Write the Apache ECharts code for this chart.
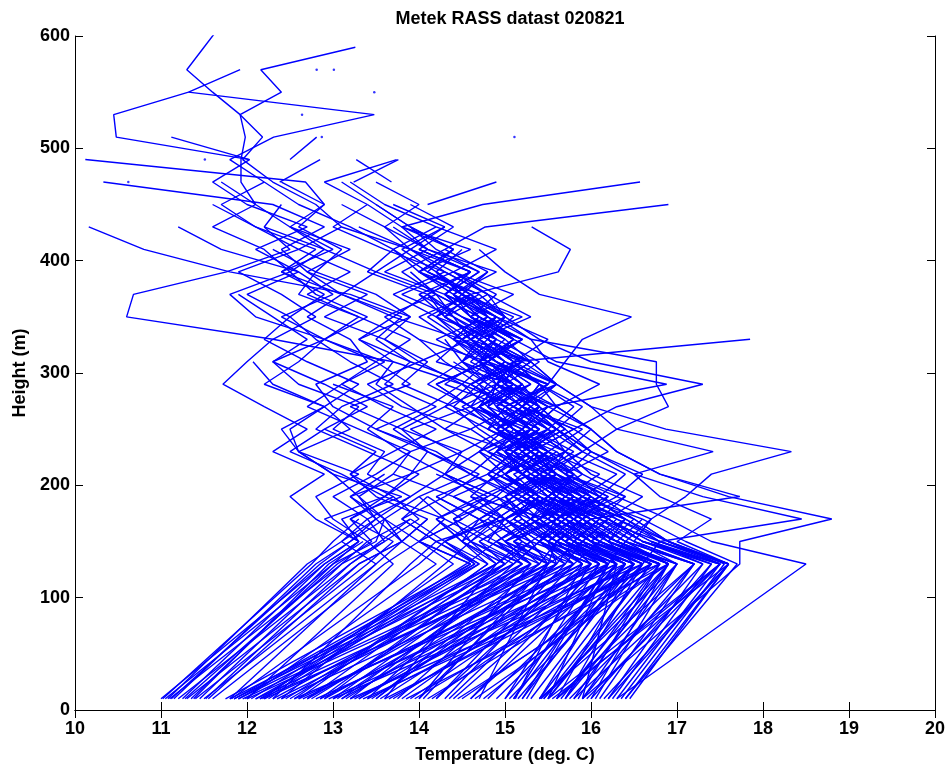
<!DOCTYPE html>
<html>
<head>
<meta charset="utf-8">
<title>Metek RASS datast 020821</title>
<script src="https://cdn.jsdelivr.net/npm/echarts@6/dist/echarts.min.js"></script>
<style>
  html, body { margin: 0; padding: 0; background: #ffffff; }
  #chart { width: 949px; height: 769px; }
</style>
</head>
<body>
<div id="chart"></div>
<script>
// Measurement heights (m): surface sensor at 10 m, RASS gates from 130 m upward
const HEIGHTS = [10, 130, 150, 170, 190, 210, 230, 250, 270, 290, 310, 330, 350,
                 370, 390, 410, 430, 450, 470, 490, 510, 530, 550, 570, 590, 610];

// Temperature profiles (deg C), one array per sounding, values follow HEIGHTS
const coldProfiles = [
  [11.0, 12.9, 13.3, 13.1, 13.8, 13.0, 12.6, 13.2, 12.9, 12.2, 12.6, 12.9, 12.1, 11.8, 12.5, 12.2, 11.6, 12.1, 11.7],
  [11.05, 13.0, 13.5, 13.6, 13.2, 13.9, 14.1, 13.5, 13.0, 12.8, 13.4, 13.2, 12.7, 13.1, 12.4, 12.8, 12.1, 11.6],
  [11.1, 13.1, 13.4, 13.0, 12.8, 13.3, 12.6, 12.4, 12.9, 13.3, 12.7, 12.2, 12.5, 12.0, 12.6, 11.7, 11.2],
  [11.15, 12.8, 13.2, 13.5, 13.9, 13.4, 13.6, 13.0, 13.3, 12.6, 12.3, 12.9, 13.4, 12.8, 12.5, 12.9, 12.2, 12.4],
  [11.2, 13.2, 13.6, 13.4, 13.0, 13.5, 13.9, 13.3, 12.7, 13.1, 13.6, 12.9, 12.4, 13.0, 12.6, 12.1, 12.7, 12.0, 11.6, 12.03, 10.48, 10.45, 11.32, 11.92],
  [11.25, 12.9, 13.3, 12.9, 13.6, 14.0, 13.4, 12.8, 13.1, 13.7, 13.2, 12.8, 12.5, 12.9, 12.4, 13.0, 12.5, 12.1, 11.93, 11.93, 11.98, 11.92, 11.6, 11.3, 11.5, 11.7],
  [11.3, 13.3, 13.8, 14.1, 13.5, 13.2, 13.7, 14.2, 13.6, 13.1, 13.5, 13.9, 13.3, 12.7, 13.2, 12.6, 13.1, 12.8, 12.3, 11.95, 12.18, 11.92, 12.4, 12.16, 13.26],
  [11.35, 13.0, 13.3, 12.8, 12.5, 12.9, 12.3, 12.7, 12.2, 11.72, 12.0, 12.3, 12.8, 12.4, 11.9, 12.6, 12.1, 11.7, 12.2, 11.8, 12.31, 13.48, 11.32],
  [11.4, 13.4, 13.7, 13.2, 13.6, 13.1, 12.5, 12.9, 13.4, 12.9, 12.3, 12.7, 12.3, 11.9],
  [11.45, 13.1, 13.6, 14.0, 13.7, 13.2, 13.5, 12.9],
  [11.5, 13.5, 13.1, 13.4, 13.9, 14.3, 13.8, 13.4, 13.7, 13.0],
  [11.55, 13.3, 13.8, 13.5, 13.2, 13.6],
  [11.6, 13.6, 14.0, 13.6, 13.3, 13.0, 12.6, 12.5, 12.9, 12.3, 12.07],
  [11.08, 12.7, 13.1, 13.5, 13.3, 13.7],
  [11.12, 12.85, 13.2, 13.6],
  [11.28, 13.05, 13.45, 13.2, 13.7],
  [11.38, 12.95, 13.35],
  [11.52, 13.2, 13.55, 13.9],
  [11.02, 12.75, 13.0, 13.3]
];

const coolProfiles = [
  [11.75, 14.6, 14.0, 14.3, 13.6, 13.9, 14.5, 13.8, 13.2, 13.9, 13.5, 12.9, 13.3, 12.6, 12.8, 12.3],
  [11.85, 15.0, 14.5, 14.7, 15.2, 14.6, 14.1, 13.8, 14.3, 14.6, 13.9, 13.5, 13.8, 13.1, 12.7, 13.2, 12.5],
  [11.9, 14.7, 14.2, 15.0, 14.4, 13.7, 13.9, 14.6, 13.8, 13.4, 14.0, 13.6, 12.9, 13.4, 12.7, 12.4, 12.9, 12.3, 10.33],
  [12.0, 15.4, 14.8, 14.3, 14.0, 14.6, 14.2, 13.5, 14.1, 14.5, 13.7, 13.3, 13.9, 13.5, 12.8, 13.1, 12.6, 12.9, 12.68, 10.12],
  [12.1, 14.9, 15.3, 14.7, 14.2, 14.8, 15.1, 14.3, 13.9, 13.5, 13.7, 12.3, 10.6, 10.68, 11.76, 12.5, 12.2],
  [12.2, 15.6, 15.0, 15.4, 14.9, 14.3, 14.5, 15.0, 14.4, 13.8, 14.1, 13.6, 13.9, 13.2, 11.8, 10.8, 10.16],
  [12.3, 15.2, 14.6, 14.4, 15.0, 15.5, 14.8, 14.3, 14.7, 15.1, 14.2, 14.5, 13.7, 14.1, 13.4, 13.7, 13.2, 12.6, 12.2],
  [12.4, 15.8, 15.1, 15.5, 14.6, 14.9, 14.4, 13.9, 14.6, 14.2, 14.8, 14.0, 13.6, 14.2, 13.5, 13.9, 13.1],
  [12.5, 15.1, 15.4, 15.0, 15.6, 15.2, 14.7, 15.3, 14.6, 14.1, 14.5, 14.9, 14.2, 13.7, 14.3, 13.6, 13.0, 13.4, 12.9, 13.74],
  [12.6, 16.0, 15.3, 15.7, 15.1, 14.6, 14.9, 15.5, 15.1, 14.5, 14.0, 14.6, 14.4, 13.8, 14.4, 13.9, 13.3],
  [12.7, 15.5, 15.6, 15.2, 15.0, 15.6, 15.3, 14.8, 15.0, 14.3, 14.7, 15.2, 14.5, 14.0, 14.6, 13.9, 13.6, 13.1],
  [12.8, 16.3, 15.6, 15.9, 15.4, 15.0, 15.5, 14.9, 14.5, 15.0, 14.7, 14.2, 14.8, 14.3, 13.6, 14.1, 13.7],
  [12.9, 15.7, 15.9, 15.3, 15.5, 15.8, 15.1, 15.4, 14.8, 14.9, 15.3, 14.4, 14.7, 14.2, 13.8, 14.3, 14.77, 16.9],
  [13.0, 16.6, 15.9, 15.5, 15.8, 15.2, 15.0, 15.6, 15.1, 14.6, 15.2, 14.8, 15.1, 14.5, 14.0, 14.6, 13.8, 14.74, 16.57],
  [13.1, 15.9, 15.6, 16.0, 15.4, 15.1, 15.7, 15.3, 15.0, 15.5, 14.7, 15.2, 14.6, 14.4, 14.9, 14.1, 13.8],
  [13.2, 16.8, 16.0, 15.7, 15.3, 15.8, 15.4, 14.9, 15.4, 15.2, 14.8, 14.5, 15.0, 14.7, 14.1, 14.4, 13.9, 13.5],
  [13.3, 16.1, 15.8, 15.4, 15.9, 15.6, 15.0, 15.3, 15.6, 14.9, 15.1, 14.7, 15.3, 14.8, 14.4, 14.9, 14.2],
  [13.4, 16.5, 16.2, 16.4, 15.7, 15.2, 15.5, 15.9, 15.2, 15.4, 15.0, 14.6, 15.2, 14.5, 14.8, 14.3],
  [13.5, 15.4, 15.1, 15.6, 16.0, 15.5, 15.2, 15.7, 15.4, 14.9, 15.3, 15.0, 14.6, 15.1, 14.4],
  [13.6, 16.7, 16.1, 15.8, 16.3, 15.7, 15.3, 15.6, 15.1, 15.5, 14.8, 15.2, 14.7],
  [13.7, 16.2, 16.4, 16.0, 15.6, 15.4, 15.9, 15.5, 15.0, 15.6, 15.3, 14.8],
  [13.85, 16.9, 16.3, 15.7, 16.1, 15.6, 15.2, 15.7, 15.4, 15.0],
  [14.0, 15.6, 15.8, 16.1, 15.5, 15.2, 15.6, 15.0, 14.7, 15.2],
  [14.15, 16.4, 15.9, 16.2, 15.5, 15.8, 15.3, 15.0, 15.4, 14.9],
  [14.3, 15.8, 16.1, 15.6, 16.0, 15.4, 15.1, 15.5, 15.2],
  [14.45, 16.9, 16.3, 15.8, 16.1, 15.6, 15.3],
  [14.6, 16.3, 16.0, 16.4, 15.7, 15.4, 15.8, 15.3],
  [14.75, 16.7, 16.0, 15.6, 15.9, 15.4],
  [14.9, 16.5, 15.8, 15.5, 15.8, 15.3, 15.0],
  [13.1, 15.3, 15.0, 15.4, 15.1, 15.6, 15.2, 14.9, 15.3, 15.0, 14.7, 15.1, 14.6, 14.3, 14.7, 14.2, 13.9],
  [13.5, 15.6, 15.2, 14.9, 15.3, 15.0, 15.5, 15.1, 14.8, 15.2, 14.9, 14.5, 14.8, 14.4],
  [13.8, 16.0, 15.4, 15.7, 15.2, 15.5, 15.0, 15.3, 15.6, 15.1, 14.8, 15.2, 14.7, 14.4, 14.8],
  [14.05, 15.5, 15.3, 15.0, 15.5, 15.2, 14.9, 15.4, 15.1, 14.7, 15.0, 14.6],
  [14.4, 16.2, 15.6, 15.3, 15.0, 15.4, 15.1, 15.6, 15.2, 14.9, 15.3, 14.8, 15.0, 14.5, 14.2],
  [12.9, 15.0, 15.3, 15.0, 15.4, 14.9, 15.2, 15.5, 15.0, 14.6, 15.0, 14.7, 14.3, 14.6, 14.1],
  [13.3, 15.8, 15.5, 15.1, 15.4, 15.0, 15.3, 14.8, 15.2, 15.4, 14.9, 14.6, 15.0, 14.5, 14.2, 14.5],
  [14.6, 16.1, 15.7, 15.4, 15.7, 15.3, 15.0, 15.3, 14.9, 15.2, 14.8, 15.1, 14.6],
  [12.7, 14.9, 15.2, 14.8, 15.1, 15.4, 14.9, 15.2, 14.7, 15.1, 14.6, 14.9, 14.4, 14.1],
  [14.2, 15.7, 15.4, 15.8, 15.3, 15.0, 15.5, 15.2, 15.4, 14.9, 15.1, 14.7, 14.9, 14.3, 14.6, 14.0],
  [12.15, 14.6, 14.0, 14.5, 14.9, 14.3, 14.7, 15.2, 14.6, 14.2, 14.8, 14.4, 14.0, 14.6, 14.1, 13.7, 14.2, 13.6, 13.2],
  [12.55, 14.8, 14.3, 14.9, 14.4, 15.0, 15.4, 14.8, 14.3, 14.9, 15.3, 14.6, 14.2, 14.7, 14.0, 14.4, 13.8, 13.4],
  [12.85, 15.0, 14.5, 14.2, 14.8, 15.3, 15.7, 15.1, 14.7, 15.3, 14.9, 14.4, 14.9, 14.3, 14.7, 14.1, 13.6, 14.0, 13.5],
  [13.2, 15.2, 14.7, 15.1, 15.5, 14.9, 15.3, 15.8, 15.2, 14.8, 15.2, 14.5, 14.1, 14.6, 14.2, 13.8, 14.3, 13.7],
  [13.6, 14.9, 14.6, 15.0, 14.7, 15.3, 15.0, 14.6, 15.1, 15.5, 14.9, 14.5, 14.9, 14.4, 14.0, 14.4, 13.9, 13.5, 13.1],
  [14.0, 15.3, 14.9, 15.4, 15.8, 15.2, 14.8, 15.3, 15.0, 14.6, 15.1, 14.7, 14.3, 14.8, 14.3, 13.9, 14.3],
  [14.7, 15.5, 15.1, 15.6, 15.2, 14.8, 15.3, 14.9, 15.5, 15.1, 14.7, 15.0, 14.5, 14.1, 14.6, 14.0],
  [11.85, 14.65, 14.2, 13.8, 14.3, 14.7, 14.1, 13.7, 14.2, 13.6, 13.9, 13.3, 13.7, 13.1, 13.5, 12.9, 12.5, 12.9, 12.4],
  [11.8, 14.9, 14.5, 14.2, 14.7, 14.3],
  [11.95, 15.3, 14.8, 15.0, 14.6],
  [12.15, 15.7, 15.2, 14.9, 15.3, 14.8],
  [12.35, 15.5, 14.9, 15.3, 14.7],
  [12.55, 16.2, 15.5, 15.0, 15.4, 14.9],
  [12.75, 15.3, 15.0, 15.6, 15.1],
  [12.95, 16.4, 15.8, 15.3, 15.8, 15.2],
  [13.15, 15.6, 15.5, 15.9, 15.4],
  [13.35, 16.8, 16.0, 15.6, 16.1, 15.5],
  [13.55, 16.0, 15.7, 16.2, 15.6],
  [13.75, 15.5, 15.9, 15.5, 15.9, 15.3],
  [13.95, 16.6, 16.1, 15.7, 16.0],
  [14.2, 15.9, 15.6, 16.0, 15.5],
  [14.5, 16.8, 16.2, 16.5, 15.9],
  [12.05, 14.55, 14.9, 14.4, 14.8, 14.2],
  [12.25, 14.7, 14.3, 14.7, 14.2],
  [11.8, 13.5, 13.8, 13.6, 14.0],
  [12.0, 13.7, 13.4, 13.9],
  [12.3, 13.9, 14.2, 13.8, 14.1],
  [11.82, 14.0, 14.3, 13.9],
  [11.98, 14.2, 13.8, 14.1],
  [12.18, 14.4, 14.0, 14.5, 14.1],
  [12.4, 14.3, 14.6, 14.2],
  [11.9, 15.1, 14.6, 14.9],
  [12.1, 15.5, 15.0, 14.7, 15.1],
  [12.45, 15.0, 14.7, 15.2],
  [12.65, 15.9, 15.4, 15.7, 15.2],
  [12.85, 16.1, 15.5, 15.2],
  [13.05, 15.4, 15.6, 15.1, 15.5],
  [13.25, 16.3, 15.7, 16.0],
  [13.45, 15.8, 15.4, 15.8, 15.3],
  [13.65, 16.5, 15.9, 15.5],
  [13.9, 16.2, 15.8, 16.1, 15.6],
  [14.1, 16.7, 16.1, 15.8],
  [14.35, 16.0, 15.7, 16.0, 15.5],
  [14.65, 16.9, 16.4, 16.0],
  [14.8, 16.4, 16.0, 16.3, 15.7],
  [12.2, 14.65, 14.3, 14.8],
  [12.6, 14.8, 14.5, 14.9, 14.4],
  [13.0, 15.2, 14.9, 15.3],
  [13.4, 15.1, 15.4, 15.0, 15.4]
];

const warmProfiles = [
  [16.3, 18.5, 17.4, 16.9, 16.3, 16.6, 16.0, 15.6, 15.9, 15.4, 15.1, 15.5, 14.9],
  [15.9, 17.73, 17.73, 18.8, 17.6, 16.8, 16.3, 16.0, 15.6, 16.1, 15.5, 15.3, 14.8, 14.6],
  [15.8, 17.5, 16.8, 18.45, 17.3, 16.5, 16.0, 15.7, 15.3, 15.6, 15.0, 14.7],
  [15.6, 17.2, 16.4, 16.7, 17.1, 17.4, 18.33, 16.87, 16.0, 15.6, 15.2, 14.8, 14.4, 14.2],
  [15.45, 16.9, 16.3, 15.9, 16.4, 15.7, 16.2, 15.8, 16.3, 17.3, 16.0, 15.4, 15.0, 14.8, 14.3],
  [15.5, 17.5, 16.7, 16.2, 15.7, 16.1, 15.5, 15.2, 15.5, 15.0, 15.1, 17.85],
  [15.45, 16.7, 16.1, 15.6, 16.2, 15.6, 15.3, 15.8, 15.2, 15.5, 15.7, 15.9, 16.47, 15.4, 15.0, 14.7],
  [15.2, 16.4, 15.8, 15.4, 15.7, 15.2, 15.0, 15.4, 14.9, 14.7, 15.2, 14.8, 15.0, 14.6, 15.62, 15.76, 15.31],
  [15.0, 16.3, 15.6, 15.9, 15.3, 15.0, 15.4, 14.9, 14.6, 15.1, 14.5, 14.8, 14.3, 14.1, 14.6, 14.0, 14.4, 13.9],
  [16.4, 17.6, 16.9, 16.5, 16.1, 16.4, 15.9, 16.3, 16.9, 16.76, 16.76, 15.3, 14.9],
  [16.2, 17.6, 17.0, 17.4, 16.8, 16.5, 17.42, 16.3, 16.0, 15.6, 15.3],
  [16.0, 17.4, 16.6, 16.2, 16.6, 16.0, 15.7, 16.0, 15.5, 16.88, 15.6, 15.1, 14.8, 14.5, 14.2],
  [15.9, 17.2, 16.5, 16.0, 17.73, 16.8, 16.3, 16.0, 15.6, 15.4, 15.1],
  [15.7, 17.0, 16.3, 16.6, 15.9, 15.5, 15.9, 15.6, 15.2, 15.6, 15.1, 14.8],
  [15.6, 17.5, 16.6, 16.2, 15.8, 15.5, 15.2, 15.6, 15.3, 15.0, 15.4, 14.9, 14.6, 14.9, 14.4],
  [15.5, 16.7, 16.0, 15.6, 15.9, 15.4, 15.1, 15.4, 14.9, 15.2, 14.8, 15.1, 14.6, 14.3],
  [15.4, 16.6, 16.8, 16.1, 15.6, 15.8, 15.3, 15.0, 15.3, 14.9, 14.7],
  [15.4, 17.2, 16.4, 15.9, 16.2, 15.7, 15.4, 15.1, 14.8, 15.1, 14.7, 14.4, 14.7, 14.2, 13.9],
  [15.15, 16.5, 15.8, 16.1, 15.6, 15.2, 15.5, 15.1, 14.8, 14.5, 14.8, 14.5, 14.2, 14.5, 14.0, 13.7],
  [15.1, 16.3, 15.7, 15.3, 15.0, 15.4, 14.9, 15.1, 14.7, 14.9, 14.5, 14.3],
  [16.45, 17.6, 16.9, 16.4, 16.0, 15.7, 16.0, 15.6, 15.3],
  [16.3, 17.5, 16.6, 16.1, 16.4, 15.9, 15.6],
  [16.2, 17.3, 16.7, 16.2, 15.9, 16.3, 15.7, 15.5, 15.8, 15.4, 15.1],
  [16.1, 17.2, 16.5, 16.7, 16.1, 15.8, 15.5],
  [15.9, 17.0, 16.2, 15.8, 15.5, 15.9, 15.4, 15.2, 15.5, 15.0, 14.7, 14.9, 14.5],
  [15.8, 16.9, 16.2, 15.7, 16.0, 15.6, 15.3, 15.0],
  [15.7, 16.6, 16.0, 15.5, 15.8, 15.4, 15.1, 15.3, 14.9, 15.2],
  [15.6, 16.5, 15.8, 16.1, 15.5, 15.2, 15.5, 15.1, 14.8],
  [15.5, 16.8, 16.1, 15.6, 15.3, 15.6, 15.2, 14.9, 15.2, 14.8, 14.5, 14.7, 14.3, 14.0],
  [15.4, 16.4, 15.7, 15.3, 15.6, 15.2, 15.0],
  [15.1, 16.1, 15.5, 15.1, 15.4, 15.0, 14.7, 15.0, 14.6, 14.8, 14.4],
  [15.0, 16.0, 15.4, 15.6, 15.1, 14.8, 15.1, 14.7, 14.4, 14.7, 14.3, 14.0],
  [15.2, 16.2, 15.6, 15.2, 14.9, 15.2, 14.8],
  [16.0, 16.9, 16.3, 15.9, 15.6],
  [15.7, 16.8, 16.1, 16.4, 15.8, 15.5, 15.7, 15.3],
  [15.3, 16.5, 15.9, 15.5, 15.2, 15.6, 15.3, 15.0, 15.4, 15.1, 14.8, 15.1, 14.7, 14.4],
  [15.25, 16.2, 15.7, 15.4, 15.6, 15.2, 15.5, 15.1, 14.9, 15.3, 14.9, 14.6, 14.9, 14.5, 14.2],
  [16.35, 17.55, 16.9, 16.5],
  [16.25, 17.4, 16.7],
  [16.15, 17.6, 16.8, 16.4, 16.0],
  [16.05, 17.0, 16.5, 16.1],
  [15.95, 17.5, 16.9, 16.3],
  [15.85, 16.8, 16.2, 15.9, 16.2],
  [15.75, 17.3, 16.6, 16.2],
  [15.65, 16.9, 16.4, 16.0],
  [15.55, 17.6, 16.8, 16.3, 15.9],
  [15.5, 16.2, 15.9, 16.2],
  [15.42, 17.0, 16.3, 15.8],
  [15.05, 16.6, 16.0, 15.6],
  [15.12, 15.9, 15.5, 15.8, 15.4],
  [16.4, 17.7, 17.1, 16.6],
  [15.9, 16.3, 16.0, 15.7]
];

// Short upper-level pieces: first value is the lowest height (m), then temperatures upward
const upperFragments = [
  [470, 12.38, 12.85],
  [490, 12.03, 11.12],
  [470, 13.68, 13.27],
  [470, 13.24, 13.76],
  [450, 14.1, 14.9],
  [490, 12.5, 12.81]
];

// Single readings with no neighbour above or below
const isolatedReadings = [
  [12.81, 570], [13.01, 570], [13.48, 550], [12.64, 530],
  [12.87, 510], [15.11, 510], [11.51, 490], [10.62, 470]
];

// Axis ticks
const TEMP_TICKS = { min: 10, max: 20, step: 1 };
const HEIGHT_TICKS = { min: 0, max: 600, step: 100 };

const FONT = '"Liberation Sans", Arial, Helvetica, sans-serif';
const BLUE = '#0000ff';

function profilePoints(temps) {
  return temps.map((t, i) => [t, HEIGHTS[i]]);
}
function fragmentPoints(frag) {
  const start = HEIGHTS.indexOf(frag[0]);
  return frag.slice(1).map((t, i) => [t, HEIGHTS[start + i]]);
}

function profileSeries(points) {
  return {
    type: 'line',
    data: points,
    symbol: 'none',
    showSymbol: false,
    connectNulls: false,
    clip: true,
    silent: true,
    lineStyle: { color: BLUE, width: 1.4 }
  };
}

const series = [];
[coldProfiles, coolProfiles, warmProfiles].forEach(group => {
  group.forEach(p => series.push(profileSeries(profilePoints(p))));
});
upperFragments.forEach(f => series.push(profileSeries(fragmentPoints(f))));
series.push({
  type: 'scatter',
  data: isolatedReadings,
  symbol: 'circle',
  symbolSize: 2.5,
  silent: true,
  itemStyle: { color: BLUE }
});

function frameAxis(extra) {
  return Object.assign({
    type: 'value',
    axisLine: { show: true, lineStyle: { color: '#000', width: 1 } },
    axisTick: { show: true, inside: true, length: 8, lineStyle: { color: '#000', width: 1 } },
    splitLine: { show: false }
  }, extra);
}

const labelStyle = { fontFamily: FONT, fontSize: 18, fontWeight: 'bold', color: '#000' };

const chart = echarts.init(document.getElementById('chart'), null, { renderer: 'canvas' });
chart.setOption({
  animation: false,
  backgroundColor: '#ffffff',
  title: {
    text: 'Metek RASS datast 020821',
    left: 505,
    textAlign: 'center',
    top: 5,
    textStyle: { fontFamily: FONT, fontSize: 18, fontWeight: 'bold', color: '#000' }
  },
  grid: { left: 75, right: 14, top: 36, bottom: 57, containLabel: false },
  xAxis: [
    frameAxis({
      position: 'bottom',
      min: TEMP_TICKS.min, max: TEMP_TICKS.max, interval: TEMP_TICKS.step,
      name: 'Temperature (deg. C)',
      nameLocation: 'middle',
      nameGap: 36,
      nameTextStyle: labelStyle,
      axisLabel: Object.assign({ margin: 10 }, labelStyle)
    }),
    frameAxis({
      position: 'top',
      min: TEMP_TICKS.min, max: TEMP_TICKS.max, interval: TEMP_TICKS.step,
      axisLabel: { show: false }
    })
  ],
  yAxis: [
    frameAxis({
      position: 'left',
      min: HEIGHT_TICKS.min, max: HEIGHT_TICKS.max, interval: HEIGHT_TICKS.step,
      name: 'Height (m)',
      nameLocation: 'middle',
      nameGap: 46,
      nameTextStyle: labelStyle,
      axisLabel: Object.assign({ margin: 5 }, labelStyle)
    }),
    frameAxis({
      position: 'right',
      min: HEIGHT_TICKS.min, max: HEIGHT_TICKS.max, interval: HEIGHT_TICKS.step,
      axisLabel: { show: false }
    })
  ],
  series: series
});
</script>
</body>
</html>
